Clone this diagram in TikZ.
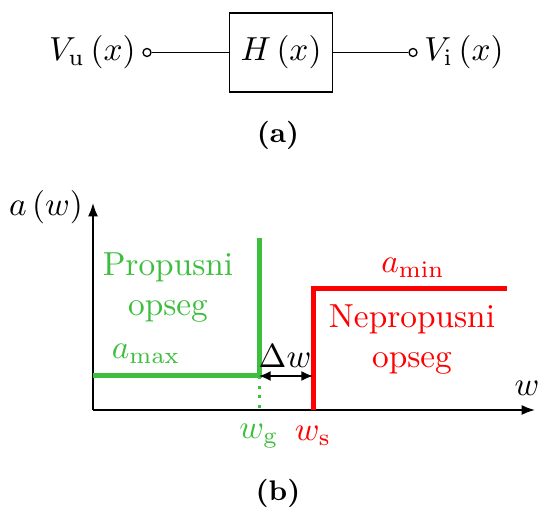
\documentclass[tikz,border=0pt]{standalone}
\usepackage{amsmath, amssymb}
\usetikzlibrary{positioning,arrows.meta}
\definecolor{pgreen}{RGB}{62,190,62}
\definecolor{sred}{RGB}{255,0,0}

\begin{document}
\begin{tikzpicture}[x=0.3pt,y=-0.3pt,
    term/.style={circle,draw,line width=0.4pt,inner sep=0pt,minimum size=2.4pt},
    blok/.style={draw,line width=0.4pt,minimum width=30.6pt,minimum height=23.7pt},
    axis/.style={line width=0.5pt,-{Latex[length=4pt,width=3pt]}},
    karak/.style={line width=1.5pt},
    caption/.style={font=\bfseries\fontsize{8.5}{9}\selectfont}]
        \useasboundingbox (0,0) rectangle (544,515);
        % block diagram
        \node[blok] (H) at (281,52.5) {$H\,(x)$};
        \node[term] (in) at (147,52.5) {};
        \node[term] (out) at (413,52.5) {};
        \node[left=-1.5pt of in] (Vu) {$V_{\mathrm{u}}\,(x)$};
        \node[right=-1.5pt of out] (Vi) {$V_{\mathrm{i}}\,(x)$};
        \draw[line width=0.4pt] (in) -- (H) -- (out);
        \node[caption] (capa) at (278,135) {(a)};

        % attenuation characteristic
        \coordinate (O) at (93,410);
        \coordinate (Y) at (93,203);
        \coordinate (X) at (535,410);
        \coordinate (G0) at (93,376);
        \coordinate (G1) at (259,376);
        \coordinate (G2) at (259,238);
        \coordinate (Gx) at (259,410);
        \coordinate (S0) at (313,410);
        \coordinate (S1) at (313,289);
        \coordinate (S2) at (507,289);
        \draw[axis] (O) -- (Y);
        \draw[axis] (O) -- (X);
        \node (aw) at (46,207) {$a\,(w)$};
        \node (w) at (527,388) {$w$};

        \draw[karak,pgreen] (G0) -- (G1) -- (G2);
        \draw[pgreen,line width=0.9pt,dotted] (G1) -- (Gx);
        \draw[karak,sred] (S0) -- (S1) -- (S2);
        \draw[line width=0.5pt,{Latex[length=3.5pt,width=3pt]}-{Latex[length=3.5pt,width=3pt]}] (G1) -- (313,376);

        \node[above] (dw) at (285,379) {$\Delta w$};
        \node[pgreen] (amax) at (146,354) {$a_{\max}$};
        \node[pgreen,align=center] (pass) at (168,288) {Propusni\\opseg};
        \node[sred] (amin) at (413,268) {$a_{\min}$};
        \node[sred,align=center] (stop) at (412,340) {Nepropusni\\opseg};
        \node[pgreen] (wg) at (259,436) {$w_{\mathrm{g}}$};
        \node[sred] (ws) at (313,436) {$w_{\mathrm{s}}$};
        \node[caption] (capb) at (278,493) {(b)};
    \end{tikzpicture}
\end{document}
